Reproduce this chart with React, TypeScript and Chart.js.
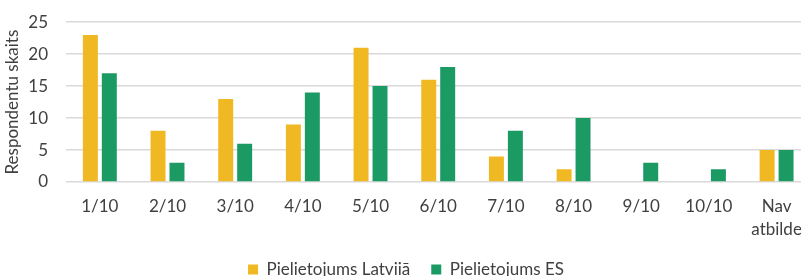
import React, { useEffect, useRef } from "react";
import { Chart, registerables } from "chart.js";

Chart.register(...registerables);

const categories: (string | string[])[] = ["1/10", "2/10", "3/10", "4/10", "5/10", "6/10", "7/10", "8/10", "9/10", "10/10", ["Nav", "atbilde"]];
const latvia = [23, 8, 13, 9, 21, 16, 4, 2, 0, 0, 5];
const es = [17, 3, 6, 14, 15, 18, 8, 10, 3, 2, 5];
const seriesNames = ["Pielietojums Latviiā", "Pielietojums ES"];
const yTicks = [0, 5, 10, 15, 20, 25];

const FONT = "Lato";

export default function App() {
  const ref = useRef<HTMLCanvasElement | null>(null);
  useEffect(() => {
    if (!ref.current) return;
    const chart = new Chart(ref.current, {
      type: "bar",
      data: {
        labels: categories,
        datasets: [
          { label: seriesNames[0], data: latvia, backgroundColor: "#F0B823", borderWidth: 0, categoryPercentage: 0.56, barPercentage: 0.79 },
          { label: seriesNames[1], data: es, backgroundColor: "#1B9A64", borderWidth: 0, categoryPercentage: 0.56, barPercentage: 0.79 },
        ],
      },
      options: {
        responsive: false,
        animation: false,
        layout: { padding: { left: 0, right: 3, top: 6, bottom: 0 } },
        plugins: {
          tooltip: { enabled: false },
          legend: {
            position: "bottom",
            labels: {
              boxWidth: 10,
              boxHeight: 10,
              padding: 21,
              color: "#404040",
              font: { family: FONT, size: 17 },
            },
          },
        },
        scales: {
          x: {
            afterFit: (s: any) => { s.height = s.height - 14; },
            grid: { display: false, drawTicks: false },
            border: { display: false },
            ticks: {
              color: "#404040",
              maxRotation: 0,
              autoSkip: false,
              padding: 13,
              font: { family: FONT, size: 17, lineHeight: 1.353 },
            },
          },
          y: {
            min: 0,
            max: 25,
            afterFit: (s: any) => { s.width = 66; },
            afterBuildTicks: (s: any) => { s.ticks = yTicks.map((v) => ({ value: v })); },
            grid: { color: "#d9d9d9", lineWidth: 1.5, drawTicks: false },
            border: { display: false },
            ticks: {
              color: "#404040",
              padding: 18,
              font: { family: FONT, size: 17 },
            },
            title: {
              display: true,
              text: "Respondentu skaits",
              color: "#404040",
              padding: { top: 2, bottom: 0 },
              font: { family: FONT, size: 17 },
            },
          },
        },
      },
    });
    return () => chart.destroy();
  }, []);
  return (
    <div style={{ position: "fixed", left: 0, top: 0, width: 801, height: 276, overflow: "hidden", background: "#fff" }}>
      <canvas ref={ref} width={815} height={294} style={{ display: "block", position: "absolute", left: 0, top: -6 }} />
    </div>
  );
}
